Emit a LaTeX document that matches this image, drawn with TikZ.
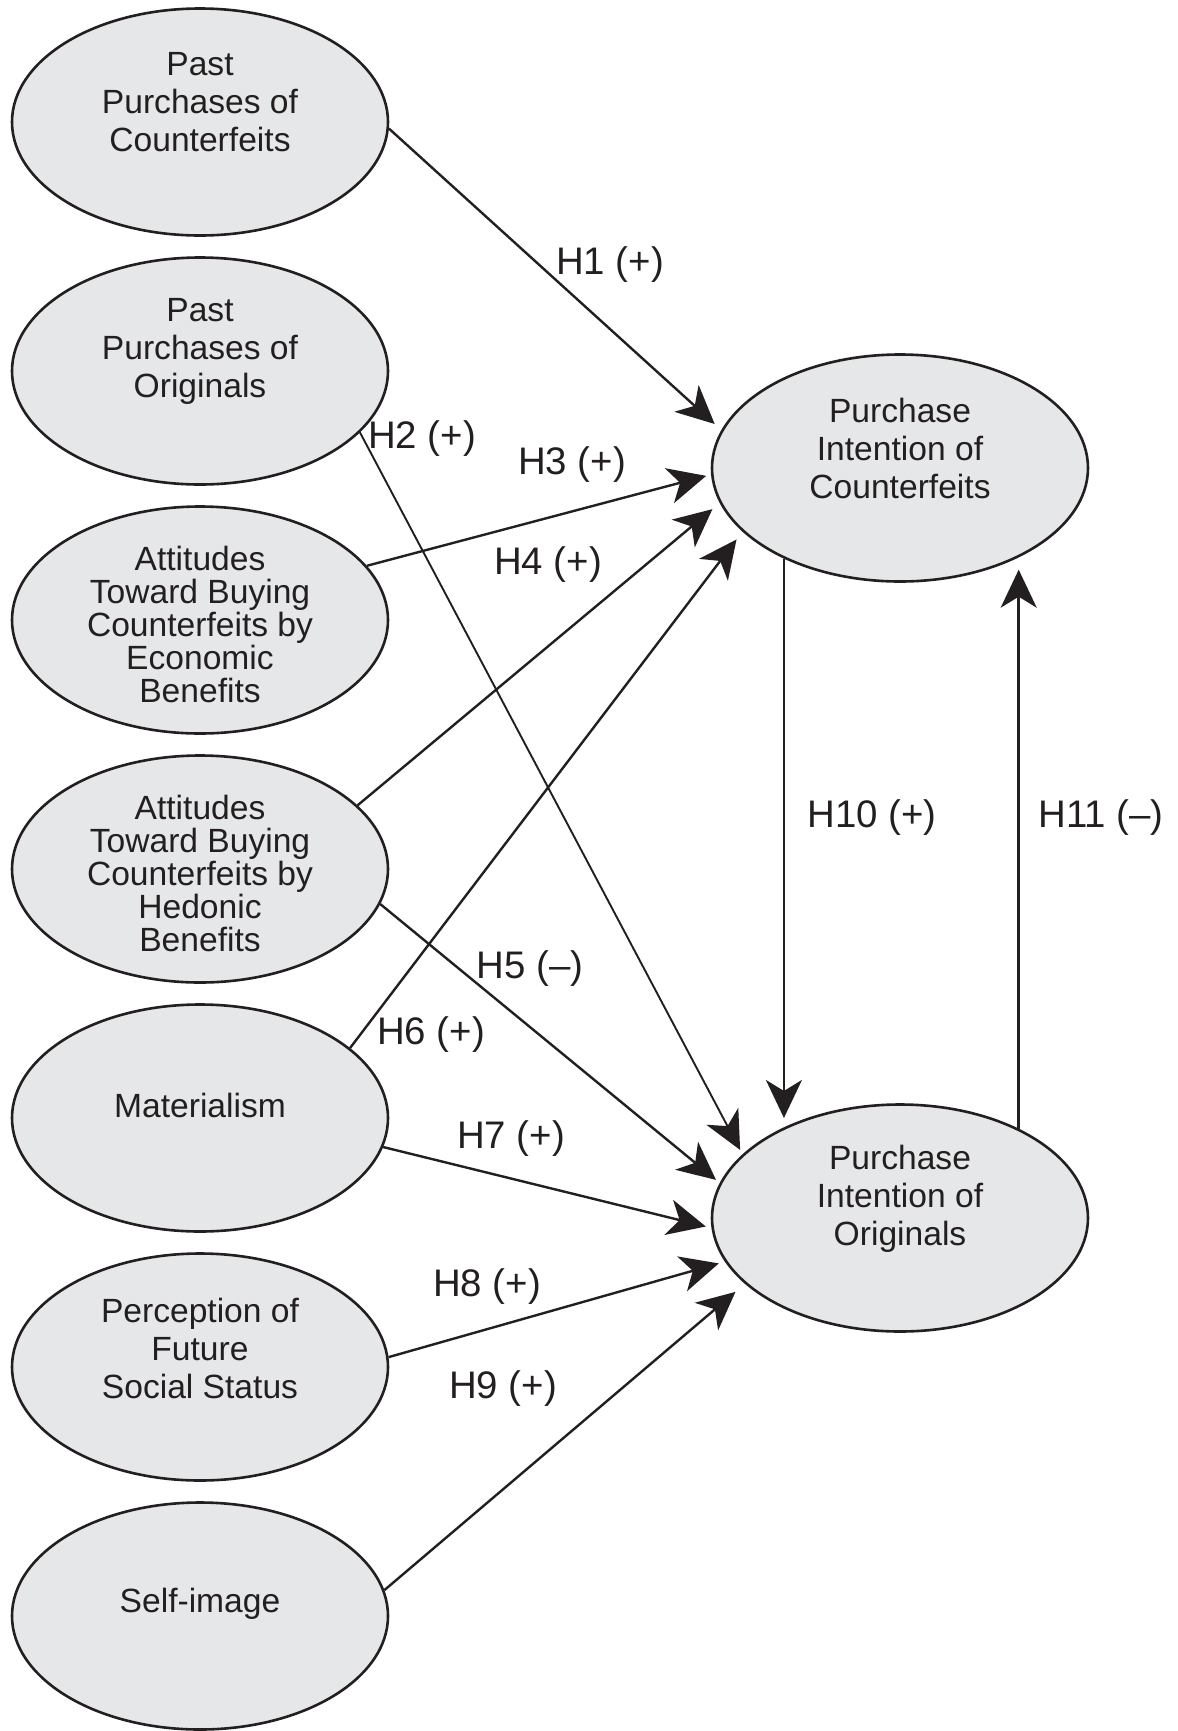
\documentclass[tikz,border=0pt]{standalone}
\usepackage{fontspec}
\setmainfont{Liberation Sans}
\usetikzlibrary{arrows.meta,shapes.geometric}
\definecolor{ink}{HTML}{231F20}
\definecolor{ellfill}{HTML}{E6E7E8}
\begin{document}
\begin{tikzpicture}[x=0.5pt,y=-0.5pt,
  ell/.style={ellipse, draw=ink, line width=1.3pt, fill=ellfill, minimum width=188pt, minimum height=113.5pt, inner sep=0pt},
  txt/.style={align=center, font=\fontsize{16.8}{19}\selectfont, text=ink, inner sep=0pt},
  txtt/.style={align=center, font=\fontsize{16.8}{16.5}\selectfont, text=ink, inner sep=0pt},
  hyp/.style={font=\fontsize{19.2}{21}\selectfont, text=ink, inner sep=0pt},
  arr/.style={draw=ink, line width=1.2pt, -{Stealth[length=19pt,width=18pt,inset=5.5pt]}},
]
\fill[white] (0,0) rectangle (1178,1731);
\useasboundingbox (0,0) rectangle (1178,1731);

% ellipses
\node[ell] (L1) at (200,122) {};
\node[ell] (L2) at (200,371) {};
\node[ell] (L3) at (200,620) {};
\node[ell] (L4) at (200,869) {};
\node[ell] (L5) at (200,1118) {};
\node[ell] (L6) at (200,1367) {};
\node[ell] (L7) at (200,1616) {};
\node[ell] (PIC) at (900,468) {};
\node[ell] (PIO) at (900,1218) {};

% texts
\node[txt] (t1) at ([yshift=10pt]L1.center) {Past\\Purchases of\\Counterfeits};
\node[txt] (t2) at ([yshift=10pt]L2.center) {Past\\Purchases of\\Originals};
\node[txtt] (t3) at ([yshift=-2pt]L3.center) {Attitudes\\Toward Buying\\Counterfeits by\\Economic\\Benefits};
\node[txtt] (t4) at ([yshift=-2pt]L4.center) {Attitudes\\Toward Buying\\Counterfeits by\\Hedonic\\Benefits};
\node[txt] (t5) at ([yshift=6.5pt]L5.center) {Materialism};
\node[txt] (t6) at ([yshift=9.5pt]L6.center) {Perception of\\Future\\Social Status};
\node[txt] (t7) at ([yshift=6pt]L7.center) {Self-image};
\node[txt] (t8) at ([yshift=10pt]PIC.center) {Purchase\\Intention of\\Counterfeits};
\node[txt] (t9) at ([yshift=9.5pt]PIO.center) {Purchase\\Intention of\\Originals};

% connectors
\draw[arr, shorten >=4.5pt] (L1.-2.4) -- (PIC.168.5);
\draw[arr, line width=0.95pt, shorten >=2.5pt] (L2.-21.1) -- (PIO.158.9);
\draw[arr, shorten >=2.5pt] (L3.18.4) -- (PIC.182.1);
\draw[arr, shorten >=4.75pt] (L4.22.9) -- (PIC.191.8);
\draw[arr, shorten >=2.4pt] (L4.-11.7) -- (PIO.169.2);
\draw[arr, shorten >=4.9pt] (L5.25.2) -- (PIC.202.5);
\draw[arr, shorten >=2.9pt] (L5.-9.7) -- (PIO.183.3);
\draw[arr, shorten >=3.2pt] (L6.3.4) -- (PIO.194);
\draw[arr, shorten >=6.2pt] (L7.8.7) -- (PIO.203.8);
\draw[arr, shorten >=3.5pt] (PIC.218.2) -- (PIC.218.2 |- PIO.140.9);
\draw[arr, shorten >=5.5pt] (PIO.37.9) -- (PIO.37.9 |- PIC.-38.8);

% labels
\node[hyp] (h1) at (610,265) {H1 (+)};
\node[hyp] (h2) at (422,439) {H2 (+)};
\node[hyp] (h3) at (572,465) {H3 (+)};
\node[hyp] (h4) at (548,565) {H4 (+)};
\node[hyp] (h5) at (530,969) {H5 (–)};
\node[hyp] (h6) at (431,1035) {H6 (+)};
\node[hyp] (h7) at (511,1139) {H7 (+)};
\node[hyp] (h8) at (487,1287) {H8 (+)};
\node[hyp] (h9) at (503,1389) {H9 (+)};
\node[hyp] (h10) at (872,818) {H10 (+)};
\node[hyp] (h11) at (1101,818) {H11 (–)};
\end{tikzpicture}
\end{document}
